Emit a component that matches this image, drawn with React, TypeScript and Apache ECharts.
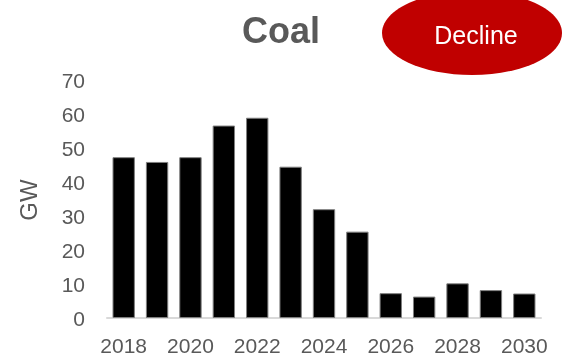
import React, { useEffect, useRef } from "react";
import * as echarts from "echarts";

const years = ["2018", "2019", "2020", "2021", "2022", "2023", "2024", "2025", "2026", "2027", "2028", "2029", "2030"];
const capacityGW = [47.3, 45.9, 47.3, 56.6, 58.9, 44.5, 32.0, 25.4, 7.3, 6.3, 10.2, 8.2, 7.2];
const titleText = "Coal";
const badgeText = "Decline";
const yAxisName = "GW";

const FONT = "'Liberation Sans', Arial, Helvetica, sans-serif";

export default function App() {
  const ref = useRef<HTMLDivElement>(null);
  useEffect(() => {
    if (!ref.current) return;
    const chart = echarts.init(ref.current, undefined, { renderer: "svg" });
    chart.setOption({
      animation: false,
      grid: { left: 107, right: 23, top: 80, bottom: 43, containLabel: false },
      xAxis: {
        type: "category",
        data: years,
        axisLine: { show: true, lineStyle: { color: "#d9d9d9", width: 2 } },
        axisTick: { show: false },
        axisLabel: {
          interval: 1,
          color: "#595959",
          fontSize: 21,
          fontFamily: FONT,
          margin: 17,
        },
      },
      yAxis: {
        type: "value",
        min: 0,
        max: 70,
        interval: 10,
        splitLine: { show: false },
        axisLine: { show: false },
        axisTick: { show: false },
        axisLabel: {
          color: "#595959",
          fontSize: 21,
          fontFamily: FONT,
          margin: 22,
        },
      },
      series: [
        {
          type: "bar",
          data: capacityGW,
          barCategoryGap: "33%",
          itemStyle: { color: "#000000", borderColor: "#7f7f7f", borderWidth: 1 },
        },
      ],
      graphic: [
        {
          type: "text",
          x: 28,
          y: 200,
          rotation: Math.PI / 2,
          style: {
            text: yAxisName,
            fill: "#595959",
            font: `24px ${FONT}`,
            align: "center",
            verticalAlign: "middle",
          },
        },
        {
          type: "text",
          x: 281,
          y: 30,
          style: {
            text: titleText,
            fill: "#595959",
            font: `bold 36px ${FONT}`,
            align: "center",
            verticalAlign: "middle",
          },
        },
        {
          type: "ellipse",
          shape: { cx: 472, cy: 33, rx: 90, ry: 42 },
          style: { fill: "#c00000" },
        },
        {
          type: "text",
          x: 476,
          y: 35,
          style: {
            text: badgeText,
            fill: "#ffffff",
            font: `25px ${FONT}`,
            align: "center",
            verticalAlign: "middle",
          },
        },
      ],
    });
    return () => chart.dispose();
  }, []);
  return <div ref={ref} style={{ width: 564, height: 361, position: "fixed", left: 0, top: 0 }} />;
}
